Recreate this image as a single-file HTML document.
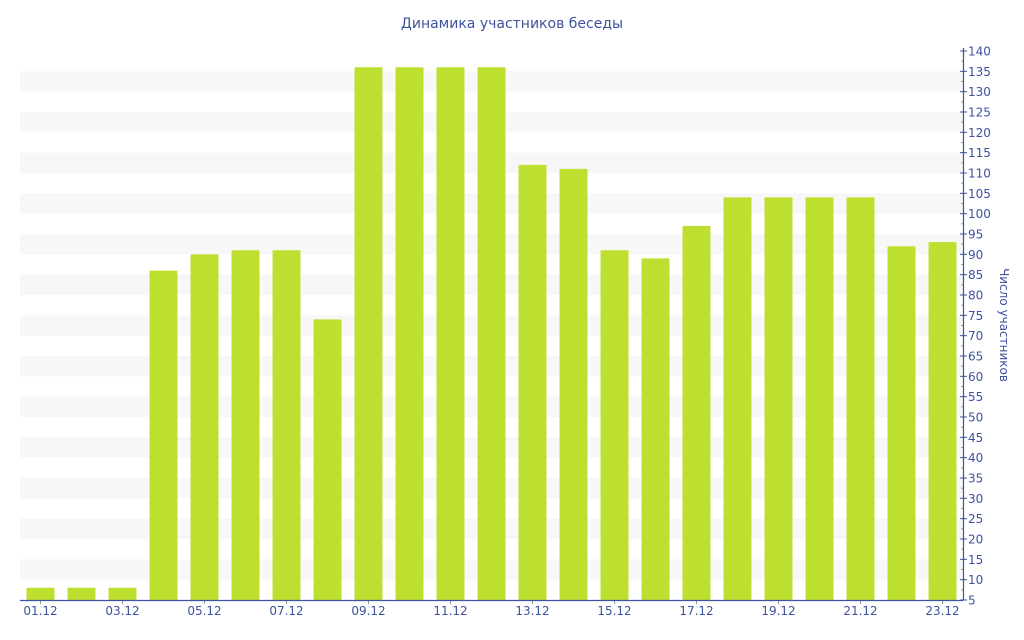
<!DOCTYPE html>
<html><head><meta charset="utf-8"><style>
html,body{margin:0;padding:0;background:#fff;}
svg{display:block;font-family:"DejaVu Sans","Liberation Sans",sans-serif;}
</style></head><body>
<svg id="c" width="1024" height="640" xmlns="http://www.w3.org/2000/svg"></svg>
<script>
var s='',C='#3d52a0';
function y(v){return 600-(v-5)*549/135;}
s+='<text x="512" y="28" text-anchor="middle" font-size="14" fill="'+C+'">Динамика участников беседы</text>';
for(var v=10;v<=130;v+=10){s+='<rect x="20" y="'+y(v+5)+'" width="943" height="'+(y(v)-y(v+5))+'" fill="#f7f7f7"/>';}
var d=[8,8,8,86,90,91,91,74,136,136,136,136,112,111,91,89,97,104,104,104,104,92,93];
var sw=943/23;
d.forEach(function(v,i){var cx=20+sw*(i+0.5);s+='<rect x="'+(cx-14)+'" y="'+y(v)+'" width="28" height="'+(600-y(v))+'" fill="#bde030" rx="1"/>';
if(i%2==0){s+='<line x1="'+cx+'" y1="600" x2="'+cx+'" y2="604" stroke="#999"/>';s+='<text x="'+cx+'" y="615" text-anchor="middle" font-size="12" fill="'+C+'">'+(i<9?'0':'')+(i+1)+'.12</text>';}});
s+='<line x1="20" y1="600.5" x2="963" y2="600.5" stroke="'+C+'" stroke-width="1.2"/>';
s+='<line x1="963.5" y1="48" x2="963.5" y2="600" stroke="'+C+'" stroke-width="1.2"/>';
for(var v=5;v<=140;v+=2.5){var yy=y(v);var maj=(v%5==0);s+='<line x1="'+(maj?960:961)+'" y1="'+yy+'" x2="'+(maj?967:963)+'" y2="'+yy+'" stroke="'+(maj?C:'#999')+'"/>';
if(maj)s+='<text x="968" y="'+(yy+4.5)+'" font-size="12" fill="'+C+'">'+v+'</text>';}
s+='<text transform="translate(1000,325) rotate(90)" text-anchor="middle" font-size="12" fill="'+C+'">Число участников</text>';
document.getElementById('c').innerHTML=s;
</script>
</body></html>
